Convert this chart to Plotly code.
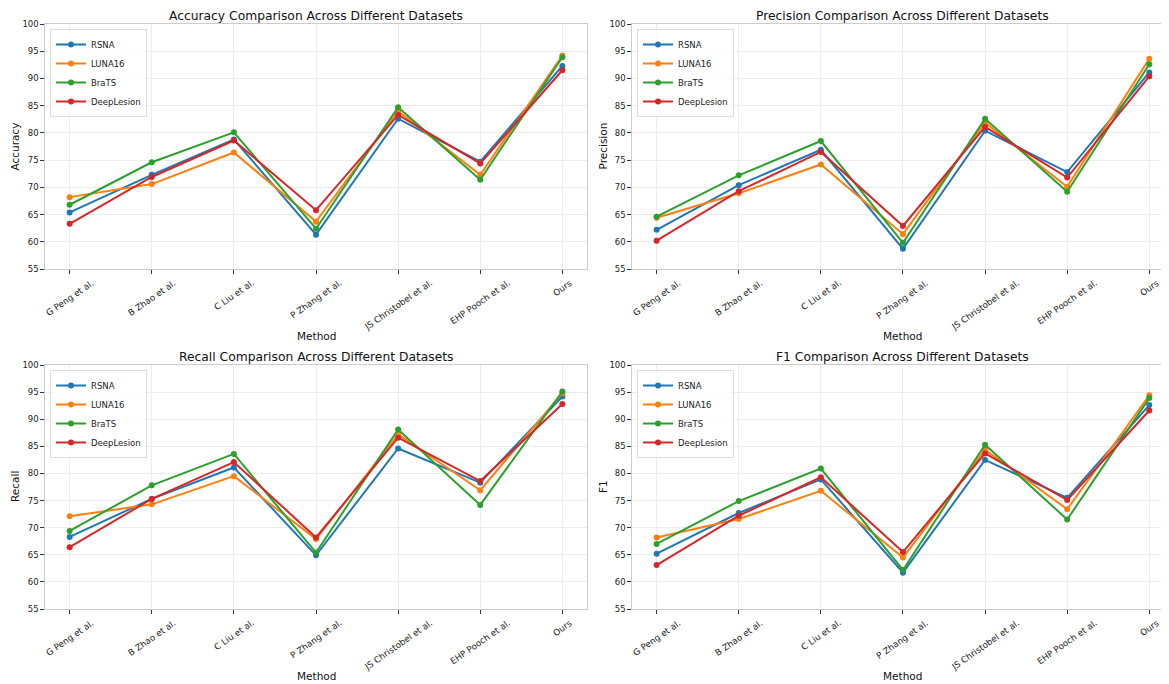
import plotly.graph_objects as go

methods = ["G Peng et al.", "B Zhao et al.", "C Liu et al.", "P Zhang et al.",
           "JS Christobel et al.", "EHP Pooch et al.", "Ours"]
datasets = ["RSNA", "LUNA16", "BraTS", "DeepLesion"]
colors = ["#1f77b4", "#ff7f0e", "#2ca02c", "#d62728"]

accuracy_rsna = [65.4, 72.3, 78.8, 61.3, 82.6, 74.7, 92.3]
accuracy_luna16 = [68.2, 70.6, 76.4, 63.7, 84.0, 72.3, 94.2]
accuracy_brats = [66.8, 74.6, 80.1, 62.4, 84.7, 71.4, 93.9]
accuracy_deeplesion = [63.3, 71.9, 78.6, 65.8, 83.3, 74.4, 91.5]

precision_rsna = [62.2, 70.4, 76.9, 58.7, 80.4, 72.8, 91.1]
precision_luna16 = [64.4, 68.9, 74.2, 61.4, 81.9, 70.1, 93.6]
precision_brats = [64.6, 72.2, 78.5, 59.8, 82.6, 69.2, 92.6]
precision_deeplesion = [60.2, 69.3, 76.5, 62.9, 81.1, 71.8, 90.4]

recall_rsna = [68.3, 75.3, 81.1, 64.9, 84.6, 78.3, 94.2]
recall_luna16 = [72.1, 74.3, 79.5, 67.9, 87.2, 76.9, 94.8]
recall_brats = [69.4, 77.8, 83.6, 65.4, 88.1, 74.2, 95.1]
recall_deeplesion = [66.4, 75.3, 82.1, 68.2, 86.6, 78.6, 92.8]

f1_rsna = [65.2, 72.7, 78.9, 61.7, 82.5, 75.5, 92.6]
f1_luna16 = [68.2, 71.6, 76.8, 64.5, 84.4, 73.4, 94.4]
f1_brats = [67.0, 74.9, 80.9, 62.2, 85.3, 71.5, 93.9]
f1_deeplesion = [63.1, 72.2, 79.3, 65.5, 83.7, 75.1, 91.6]

metrics = ["Accuracy", "Precision", "Recall", "F1"]
metric_data = {
    "Accuracy": [accuracy_rsna, accuracy_luna16, accuracy_brats, accuracy_deeplesion],
    "Precision": [precision_rsna, precision_luna16, precision_brats, precision_deeplesion],
    "Recall": [recall_rsna, recall_luna16, recall_brats, recall_deeplesion],
    "F1": [f1_rsna, f1_luna16, f1_brats, f1_deeplesion],
}
y_ticks = [55, 60, 65, 70, 75, 80, 85, 90, 95, 100]

# The page body has an 8px margin; the figure is sized to fit the window.
OFF = 8
W, H = 1169 - OFF, 684 - OFF
FONT = "DejaVu Sans"


def fx(p):
    return (p - OFF) / W


def fy(p):
    return 1 - (p - OFF) / H


# panel boxes in window pixels (left, right, top, bottom), x range, left column?
panels = [
    (45, 587, 24, 269, [-0.3, 6.3], True),
    (632, 1169, 24, 269, [-0.3, 6.24], False),
    (45, 587, 365, 609, [-0.3, 6.3], True),
    (632, 1169, 365, 609, [-0.3, 6.24], False),
]
centers_x = [316, 903, 316, 903]
ytitle_x = [15, 603, 15, 603]

fig = go.Figure()
layout = dict(
    width=W, height=H,
    margin=dict(l=0, r=0, t=0, b=0, autoexpand=False),
    paper_bgcolor="white", plot_bgcolor="white",
    font=dict(family=FONT, size=9, color="#222222"),
    showlegend=True,
)
annotations = []

for i, m in enumerate(metrics):
    L, R, T, B, xr, left_panel = panels[i]
    xa = "xaxis" if i == 0 else f"xaxis{i+1}"
    ya = "yaxis" if i == 0 else f"yaxis{i+1}"
    xref = "x" if i == 0 else f"x{i+1}"
    yref = "y" if i == 0 else f"y{i+1}"
    leg = "legend" if i == 0 else f"legend{i+1}"
    for j, d in enumerate(datasets):
        fig.add_trace(go.Scatter(
            x=list(range(len(methods))), y=metric_data[m][j],
            mode="lines+markers", name=d,
            line=dict(color=colors[j], width=2),
            marker=dict(color=colors[j], size=6),
            xaxis=xref, yaxis=yref, legend=leg,
        ))
    layout[xa] = dict(
        domain=[fx(L), min(fx(R), 1.0)], range=xr, anchor=yref, automargin=False,
        tickmode="array", tickvals=list(range(len(methods))),
        showticklabels=False,
        ticks="outside", ticklen=3.5, tickcolor="#333333",
        showgrid=True, gridcolor="#ececec", gridwidth=1,
        showline=True, linecolor="#cccccc", linewidth=1.2, mirror=True,
        zeroline=False,
    )
    layout[ya] = dict(
        domain=[fy(B), fy(T)], range=[55, 100], anchor=xref, automargin=False,
        tickmode="array", tickvals=y_ticks,
        ticks="outside", ticklen=3.5, tickcolor="#333333",
        tickfont=dict(size=8.5, color="#222222"),
        showgrid=True, gridcolor="#ececec", gridwidth=1,
        showline=True, linecolor="#cccccc", linewidth=1.2,
        mirror=True if left_panel else False,
        zeroline=False,
    )
    layout[leg] = dict(
        x=fx(L + 5), y=fy(T + 5), xanchor="left", yanchor="top",
        bgcolor="rgba(255,255,255,0.8)", bordercolor="#dddddd", borderwidth=1,
        font=dict(family=FONT, size=8.5, color="#222222"),
        itemwidth=30, tracegroupgap=0,
    )
    # rotated category labels, positioned on the x axis scale
    for k, lab in enumerate(methods):
        annotations.append(dict(
            text=lab, x=k, xref=xref, y=fy(B + 6), yref="paper",
            xanchor="center", yanchor="top", textangle=-35, showarrow=False,
            font=dict(family=FONT, size=8.7, color="#222222"),
        ))
    # titles
    annotations.append(dict(
        text=f"{m} Comparison Across Different Datasets",
        x=fx(centers_x[i]), y=fy(T - 8), xref="paper", yref="paper",
        xanchor="center", yanchor="middle", showarrow=False,
        font=dict(family=FONT, size=12.3, color="#111111"),
    ))
    annotations.append(dict(
        text="Method",
        x=fx(centers_x[i]), y=fy(B + 67), xref="paper", yref="paper",
        xanchor="center", yanchor="middle", showarrow=False,
        font=dict(family=FONT, size=10.5, color="#111111"),
    ))
    annotations.append(dict(
        text=m,
        x=fx(ytitle_x[i]), y=fy((T + B) / 2), xref="paper", yref="paper",
        xanchor="center", yanchor="middle", showarrow=False, textangle=-90,
        font=dict(family=FONT, size=10.5, color="#111111"),
    ))

layout["annotations"] = annotations
fig.update_layout(**layout)
fig.write_html("out.html")
